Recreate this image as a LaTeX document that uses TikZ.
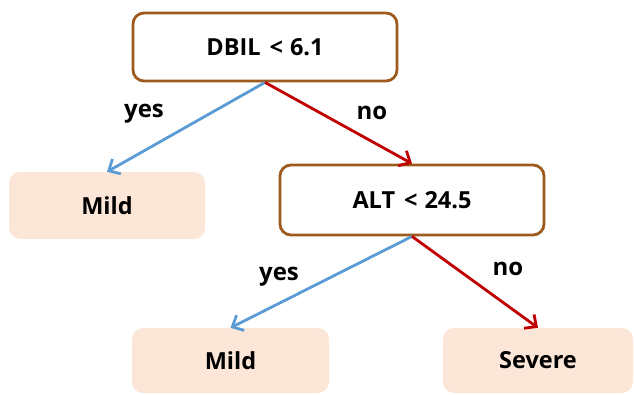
\documentclass[tikz,border=0pt]{standalone}
\usepackage{fontspec}
\setmainfont{Open Sans}
\usetikzlibrary{arrows.meta}
\definecolor{boxbrown}{RGB}{158,91,30}
\definecolor{leaffill}{RGB}{252,230,216}
\definecolor{yesblue}{RGB}{91,155,213}
\definecolor{nored}{RGB}{192,0,0}
\tikzset{
  testbox/.style={draw=boxbrown, line width=2.8pt, fill=white, rounded corners=11pt, font=\fontsize{23.5}{26}\selectfont\bfseries, inner sep=0pt},
  leafbox/.style={fill=leaffill, rounded corners=11pt, font=\fontsize{23.5}{26}\selectfont\bfseries, inner sep=0pt},
  yesarrow/.style={draw=yesblue, line width=2.8pt, -{Straight Barb[length=9pt,width=17pt,line width=2.8pt]}},
  noarrow/.style={draw=nored, line width=2.8pt, -{Straight Barb[length=9pt,width=17pt,line width=2.8pt]}},
  lbl/.style={font=\fontsize{24}{26}\selectfont\bfseries, inner sep=0pt}
}
\begin{document}
\begin{tikzpicture}[x=1pt,y=-1pt]
\useasboundingbox (0,0) rectangle (634,394);
\node[testbox, minimum width=264pt, minimum height=68pt] (top) at (265,47) {DBIL\hspace{9pt}<\hspace{7pt}6.1};
\node[testbox, minimum width=264pt, minimum height=70pt] (alt) at (412,200) {ALT\hspace{9pt}<\hspace{7pt}24.5};
\node[leafbox, minimum width=196pt, minimum height=67pt] (mildA) at (107,205.5) {Mild};
\node[leafbox, minimum width=197pt, minimum height=65pt] (mildB) at (230.5,360.5) {Mild};
\node[leafbox, minimum width=190pt, minimum height=65pt] (severe) at (538,360.5) {Severe};
\draw[yesarrow] (top.south) -- (mildA.north);
\draw[noarrow] (top.south) -- (alt.north);
\draw[yesarrow] (alt.south) -- (mildB.north);
\draw[noarrow] (alt.south) -- (severe.north);
\node[lbl] (y1) at (144,114) {yes};
\node[lbl] (n1) at (372,113) {no};
\node[lbl] (y2) at (279,277) {yes};
\node[lbl] (n2) at (508,269) {no};
\end{tikzpicture}
\end{document}
